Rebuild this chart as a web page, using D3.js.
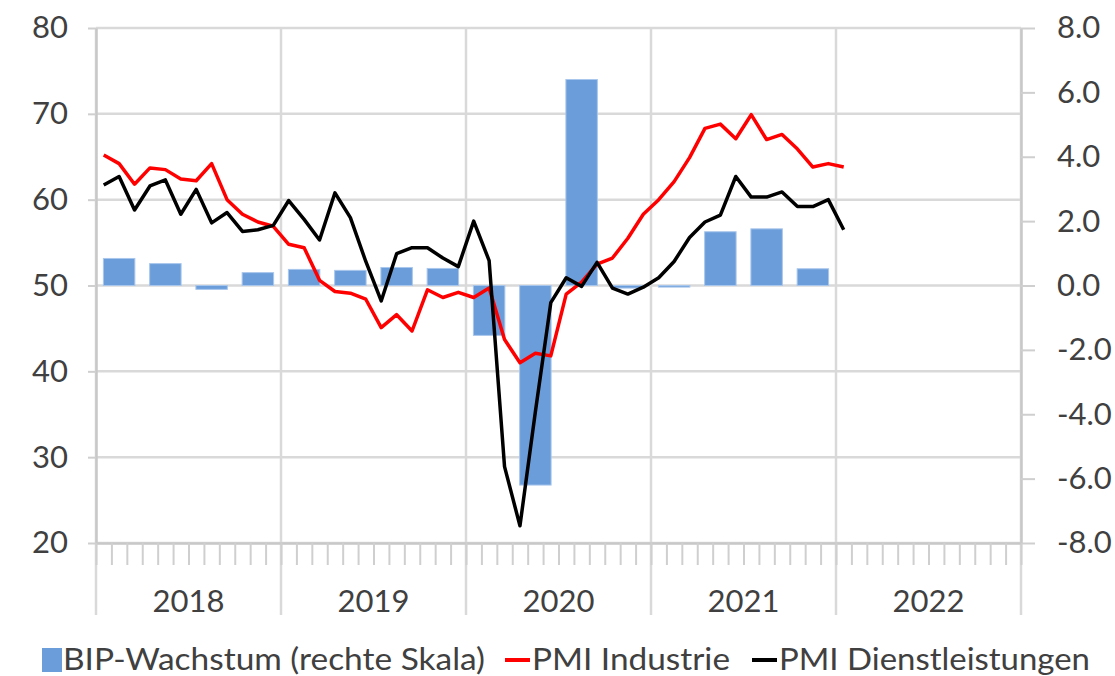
<!DOCTYPE html>
<html>
<head>
<meta charset="utf-8">
<script src="https://cdn.jsdelivr.net/npm/d3@7"></script>
<style>
  body { margin: 0; background: #fff; }
  svg { display: block; }
  text { font-family: Lato, "Open Sans", sans-serif; fill: #404040; }
</style>
</head>
<body>
<svg id="chart" width="1115" height="676"></svg>
<script>
// data (Jan 2018 - Jan 2022 monthly, GDP quarterly 2018Q1 - 2021Q4)
var jahre = ["2018", "2019", "2020", "2021", "2022"];

var pmiIndustrie = [
    65.2, 64.2, 61.8, 63.7, 63.5, 62.4, 62.2, 64.2, 60.0, 58.3, 57.4, 56.9,
    54.8, 54.4, 50.6, 49.3, 49.1, 48.4, 45.1, 46.6, 44.7, 49.5, 48.6, 49.2,
    48.6, 49.7, 43.7, 41.0, 42.1, 41.8, 49.0, 50.4, 52.5, 53.2, 55.5, 58.3,
    60.0, 62.1, 64.9, 68.3, 68.8, 67.1, 69.9, 67.0, 67.6, 65.9, 63.8, 64.2,
    63.8
];

var pmiDienstleistungen = [
    61.7, 62.7, 58.8, 61.6, 62.3, 58.3, 61.2, 57.3, 58.5, 56.3, 56.5, 57.0,
    59.9, 57.7, 55.3, 60.8, 57.9, 52.8, 48.2, 53.7, 54.4, 54.4, 53.2, 52.2,
    57.5, 52.9, 28.9, 22.0, 35.3, 48.0, 50.9, 49.9, 52.7, 49.7, 49.0, 49.8,
    50.9, 52.8, 55.6, 57.4, 58.2, 62.7, 60.3, 60.3, 60.9, 59.2, 59.2, 60.0,
    56.5
];

var bipWachstum = [
    0.84, 0.68, -0.12, 0.40,
    0.50, 0.47, 0.56, 0.53,
    -1.55, -6.20, 6.40, -0.08,
    -0.05, 1.67, 1.76, 0.52
];

var linkeTicks = [20, 30, 40, 50, 60, 70, 80];
var rechteTicks = [-8, -6, -4, -2, 0, 2, 4, 6, 8];

var svg = d3.select("#chart"),
    pL = 96, pR = 1021, pT = 28, pB = 543,
    grau = "#d9d9d9",
    schrift = 31;

var x = d3.scaleLinear().domain([0, jahre.length * 12]).range([pL, pR]);
var yL = d3.scaleLinear().domain([20, 80]).range([pB, pT]);
var yR = d3.scaleLinear().domain([-8, 8]).range([pB, pT]);

// horizontal gridlines (left scale)
svg.append("g").selectAll("line")
    .data(linkeTicks)
    .enter().append("line")
    .attr("x1", pL).attr("x2", pR)
    .attr("y1", function (d) { return yL(d); })
    .attr("y2", function (d) { return yL(d); })
    .attr("stroke", grau).attr("stroke-width", 2.5);

// year separators, run down through the axis area
svg.append("g").selectAll("line")
    .data(d3.range(0, jahre.length + 1))
    .enter().append("line")
    .attr("x1", function (d) { return x(d * 12); })
    .attr("x2", function (d) { return x(d * 12); })
    .attr("y1", pT).attr("y2", 615)
    .attr("stroke", grau).attr("stroke-width", 2.5);

// left axis
var axL = svg.append("g")
    .attr("transform", "translate(" + pL + ",0)")
    .call(d3.axisLeft(yL).tickValues(linkeTicks).tickSize(8).tickSizeOuter(0)
        .tickPadding(20).tickFormat(d3.format("d")));

// right axis
var axR = svg.append("g")
    .attr("transform", "translate(" + pR + ",0)")
    .call(d3.axisRight(yR).tickValues(rechteTicks).tickSize(14).tickSizeOuter(0)
        .tickPadding(22).tickFormat(function (d) { return d.toFixed(1); }));

// bottom axis with monthly ticks
var axB = svg.append("g")
    .attr("transform", "translate(0," + pB + ")")
    .call(d3.axisBottom(x).tickValues(d3.range(0, jahre.length * 12 + 1))
        .tickSize(22).tickSizeOuter(0).tickFormat(""));

[axL, axR, axB].forEach(function (a) {
    a.select(".domain").attr("stroke", "#c8c8c8").attr("stroke-width", 2.5);
    a.selectAll(".tick line").attr("stroke", "#cfcfcf").attr("stroke-width", 2);
    a.selectAll("text").attr("font-size", schrift).attr("fill", "#404040")
        .style("font-family", "Lato, 'Open Sans', sans-serif");
});
axR.selectAll("text").attr("text-anchor", "start");

// year labels
svg.append("g").selectAll("text")
    .data(jahre)
    .enter().append("text")
    .attr("x", function (d, i) { return x(i * 12 + 6); })
    .attr("y", 612)
    .attr("text-anchor", "middle")
    .attr("font-size", schrift)
    .text(function (d) { return d; });

// GDP bars (right scale)
var qBreite = x(3) - x(0), pad = qBreite * 0.16;
svg.append("g").selectAll("rect")
    .data(bipWachstum)
    .enter().append("rect")
    .attr("x", function (d, i) { return x(i * 3) + pad; })
    .attr("width", qBreite - 2 * pad)
    .attr("y", function (d) { return yR(Math.max(0, d)); })
    .attr("height", function (d) { return Math.max(1.5, Math.abs(yR(d) - yR(0))); })
    .attr("fill", "#6a9dda")
    .attr("stroke", "#a9c6ec").attr("stroke-width", 1);

// PMI lines
var linie = d3.line()
    .x(function (d, i) { return x(i + 0.5); })
    .y(function (d) { return yL(d); });

svg.append("path").datum(pmiIndustrie)
    .attr("d", linie)
    .attr("fill", "none").attr("stroke", "#ff0000")
    .attr("stroke-width", 3.5).attr("stroke-linejoin", "round");

svg.append("path").datum(pmiDienstleistungen)
    .attr("d", linie)
    .attr("fill", "none").attr("stroke", "#000000")
    .attr("stroke-width", 3.5).attr("stroke-linejoin", "round");

// legend
var leg = svg.append("g");
leg.append("rect").attr("x", 42).attr("y", 648).attr("width", 20).attr("height", 24)
    .attr("fill", "#6a9dda");
leg.append("text").attr("x", 63).attr("y", 670).attr("font-size", schrift)
    .attr("textLength", 422).attr("lengthAdjust", "spacingAndGlyphs")
    .text("BIP-Wachstum (rechte Skala)");
leg.append("line").attr("x1", 505).attr("x2", 530).attr("y1", 660).attr("y2", 660)
    .attr("stroke", "#ff0000").attr("stroke-width", 4);
leg.append("text").attr("x", 532).attr("y", 670).attr("font-size", schrift)
    .attr("textLength", 198).attr("lengthAdjust", "spacingAndGlyphs")
    .text("PMI Industrie");
leg.append("line").attr("x1", 752).attr("x2", 777).attr("y1", 660).attr("y2", 660)
    .attr("stroke", "#000000").attr("stroke-width", 4);
leg.append("text").attr("x", 779).attr("y", 670).attr("font-size", schrift)
    .attr("textLength", 311).attr("lengthAdjust", "spacingAndGlyphs")
    .text("PMI Dienstleistungen");
</script>
</body>
</html>
